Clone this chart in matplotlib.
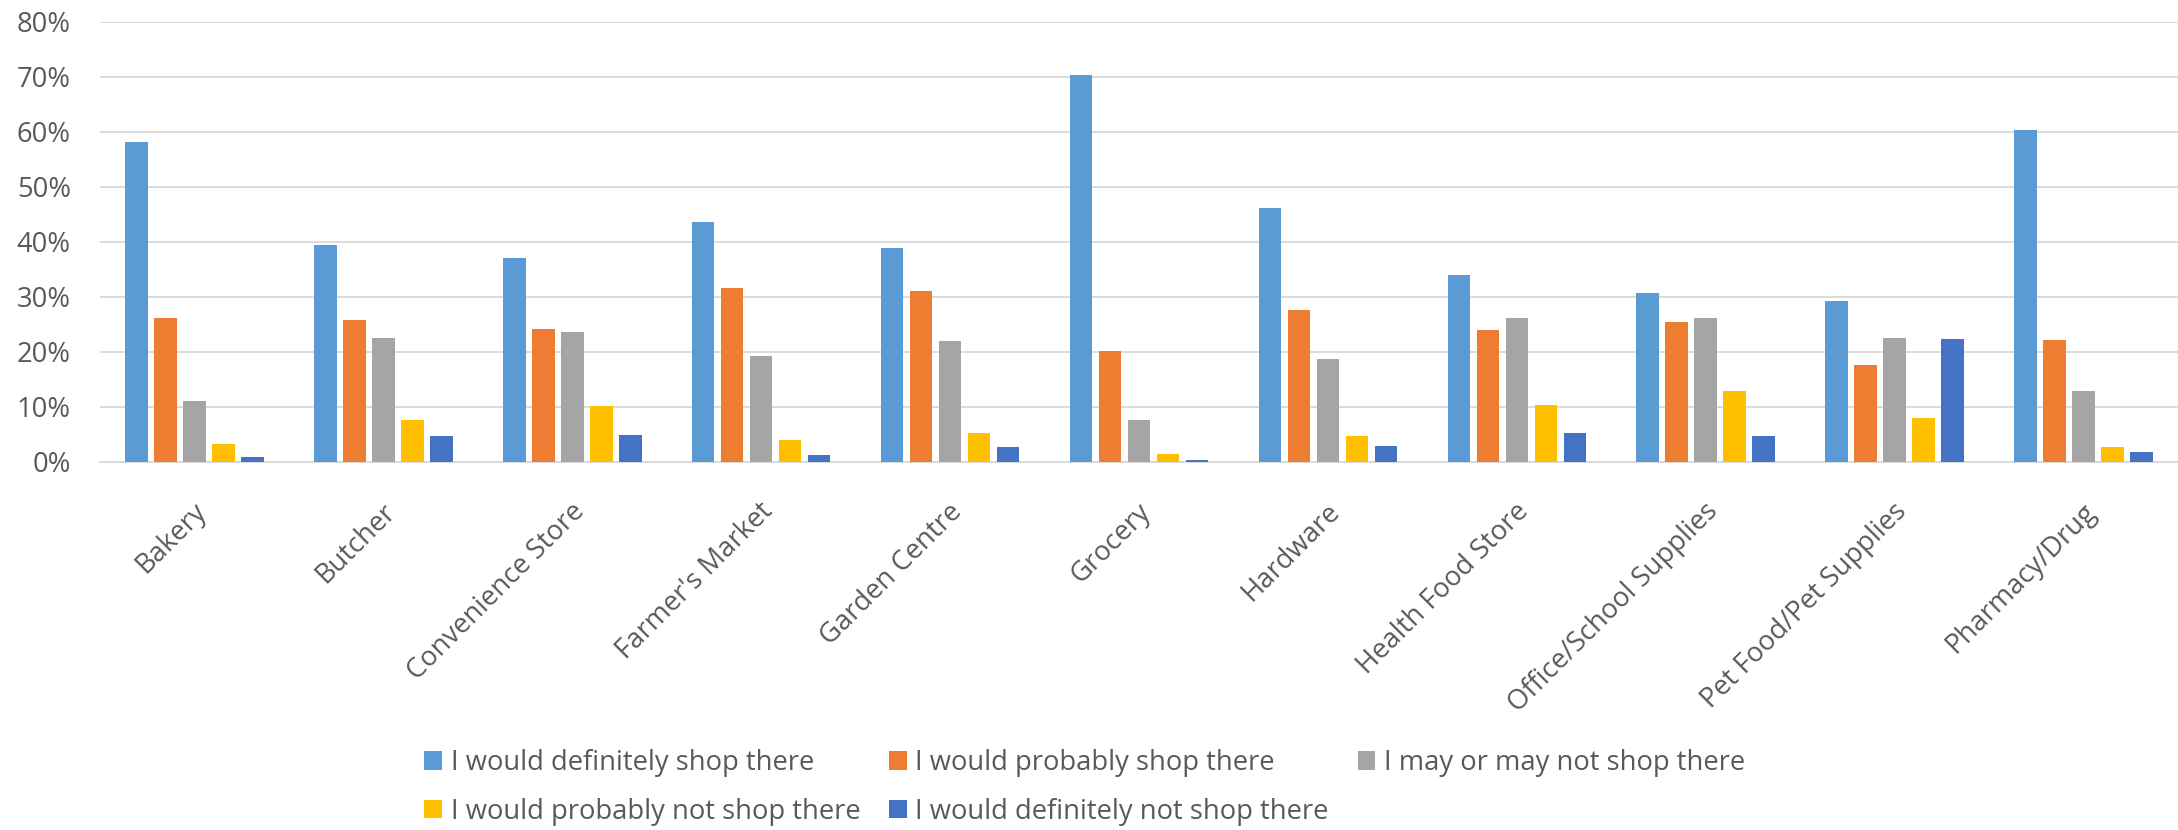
import numpy as np
import matplotlib.pyplot as plt
from matplotlib import transforms

categories = ['Bakery', 'Butcher', 'Convenience Store', "Farmer's Market",
              'Garden Centre', 'Grocery', 'Hardware', 'Health Food Store',
              'Office/School Supplies', 'Pet Food/Pet Supplies', 'Pharmacy/Drug']

series_names = ['I would definitely shop there',
                'I would probably shop there',
                'I may or may not shop there',
                'I would probably not shop there',
                'I would definitely not shop there']

definitely = [58.2, 39.4, 37.0, 43.5, 38.9, 70.3, 46.1, 34.0, 30.7, 29.3, 60.3]
probably = [26.2, 25.7, 24.2, 31.6, 31.0, 20.1, 27.5, 24.0, 25.4, 17.6, 22.1]
maybe = [11.1, 22.5, 23.6, 19.3, 22.0, 7.6, 18.6, 26.2, 26.2, 22.5, 12.8]
probably_not = [3.3, 7.6, 10.2, 4.0, 5.2, 1.4, 4.6, 10.3, 12.8, 8.0, 2.7]
definitely_not = [0.9, 4.6, 4.8, 1.3, 2.7, 0.4, 2.9, 5.2, 4.6, 22.3, 1.8]

colors = ['#5B9BD5', '#ED7D31', '#A5A5A5', '#FFC000', '#4472C4']
text_color = '#595959'

plt.rcParams['font.family'] = ['Open Sans', 'DejaVu Sans']
plt.rcParams['font.size'] = 19.7

fig = plt.figure(figsize=(21.78, 8.30), dpi=100)
ax = fig.add_axes([100 / 2178, 1 - 461.7 / 830, 1 - 100 / 2178, (461.7 - 21.7) / 830])

x = np.arange(len(categories))
step = 0.1535
width = 0.119
all_series = [definitely, probably, maybe, probably_not, definitely_not]
handles = []
for i, vals in enumerate(all_series):
    b = ax.bar(x + (i - 2) * step, np.array(vals) / 100, width,
               color=colors[i], label=series_names[i], zorder=3)
    handles.append(b)

ax.set_xlim(-0.5, len(categories) - 0.5)
ax.set_ylim(0, 0.8)
ax.set_yticks(np.arange(0, 0.81, 0.1))
ax.set_yticklabels(['%d%%' % v for v in range(0, 81, 10)])
ax.yaxis.grid(True, color='#D9D9D9', linewidth=1.3, zorder=0)
ax.tick_params(axis='y', length=0, pad=21, colors=text_color, labelsize=19.7)
ax.tick_params(axis='x', length=0, pad=0, colors=text_color)

for s in ['top', 'right', 'left']:
    ax.spines[s].set_visible(False)
ax.spines['bottom'].set_color('#D9D9D9')
ax.spines['bottom'].set_linewidth(1.3)

ax.set_xticks(x)
ax.set_xticklabels(categories, rotation=45, ha='right', va='center',
                   rotation_mode='anchor', fontsize=19.7, color=text_color)
offset = transforms.ScaledTranslation(8 / 100, -46 / 100, fig.dpi_scale_trans)
for lab in ax.get_xticklabels():
    lab.set_transform(lab.get_transform() + offset)

# legend in row order like Excel
order = [0, 3, 1, 4, 2]
leg = fig.legend([handles[i] for i in order], [series_names[i] for i in order],
                 ncol=3, loc='upper left',
                 bbox_to_anchor=(424 / 2178, 1 - 749 / 830),
                 frameon=False, borderpad=0, borderaxespad=0,
                 handlelength=0.65, handleheight=0.65, handletextpad=0.32,
                 columnspacing=1.05, labelspacing=0.75, fontsize=19.7)
for t in leg.get_texts():
    t.set_color(text_color)

plt.savefig('out.png', dpi=100)
